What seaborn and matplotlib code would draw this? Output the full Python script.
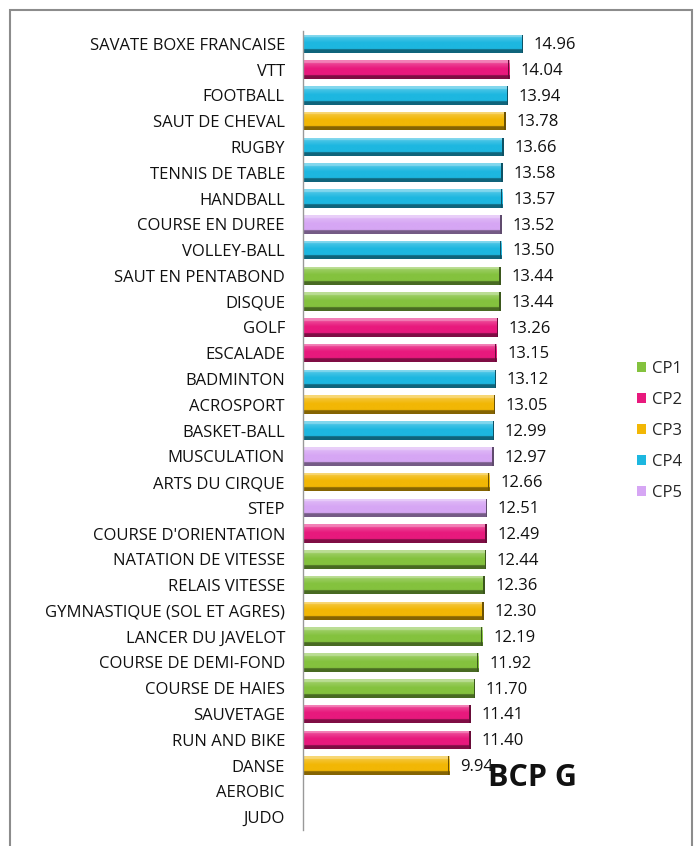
import numpy as np
import pandas as pd
import matplotlib
matplotlib.use("Agg")
import matplotlib.pyplot as plt
from matplotlib.patches import Rectangle
import matplotlib.colors as mcolors
import seaborn as sns

sports = ["SAVATE BOXE FRANCAISE", "VTT", "FOOTBALL", "SAUT DE CHEVAL", "RUGBY",
          "TENNIS DE TABLE", "HANDBALL", "COURSE EN DUREE", "VOLLEY-BALL",
          "SAUT EN PENTABOND", "DISQUE", "GOLF", "ESCALADE", "BADMINTON",
          "ACROSPORT", "BASKET-BALL", "MUSCULATION", "ARTS DU CIRQUE", "STEP",
          "COURSE D'ORIENTATION", "NATATION DE VITESSE", "RELAIS VITESSE",
          "GYMNASTIQUE (SOL ET AGRES)", "LANCER DU JAVELOT", "COURSE DE DEMI-FOND",
          "COURSE DE HAIES", "SAUVETAGE", "RUN AND BIKE", "DANSE", "AEROBIC", "JUDO"]
values = [14.96, 14.04, 13.94, 13.78, 13.66, 13.58, 13.57, 13.52, 13.50, 13.44,
          13.44, 13.26, 13.15, 13.12, 13.05, 12.99, 12.97, 12.66, 12.51, 12.49,
          12.44, 12.36, 12.30, 12.19, 11.92, 11.70, 11.41, 11.40, 9.94, np.nan, np.nan]
groups = ["CP4", "CP2", "CP4", "CP3", "CP4", "CP4", "CP4", "CP5", "CP4", "CP1",
          "CP1", "CP2", "CP2", "CP4", "CP3", "CP4", "CP5", "CP3", "CP5", "CP2",
          "CP1", "CP1", "CP3", "CP1", "CP1", "CP1", "CP2", "CP2", "CP3", "CP5", "CP5"]
group_names = ["CP1", "CP2", "CP3", "CP4", "CP5"]
group_colors = ["#84C23E", "#E8197D", "#F2B705", "#1DB7E0", "#D6A6F4"]
title = "BCP G"

df = pd.DataFrame({"sport": sports, "value": values, "cp": groups})
palette = dict(zip(group_names, group_colors))

sns.set_style("white")
plt.rcParams["font.family"] = ["Open Sans", "DejaVu Sans"]

W, H = 699, 846
fig = plt.figure(figsize=(W / 100, H / 100), dpi=100)
ax = fig.add_axes([303 / W, 1 - 830 / H, (580 - 303) / W, (830 - 31) / H])

sns.barplot(data=df, y="sport", x="value", hue="cp", order=sports,
            hue_order=group_names, palette=palette, dodge=False, width=0.72,
            saturation=1, ax=ax, legend=True, linewidth=0)

xmax = (580 - 303) / 14.7
ax.set_xlim(0, xmax)
ylim = ax.get_ylim()

# bevel-like shading on each bar
n = 64
t = np.linspace(0, 1, n)
for p in list(ax.patches):
    w = p.get_width()
    if not np.isfinite(w) or w <= 0:
        continue
    base = np.array(mcolors.to_rgb(p.get_facecolor()))
    img = np.zeros((n, 1, 4))
    for i, tt in enumerate(t):
        if tt < 0.15:
            c = base * 0.55 + 0.45
        elif tt < 0.45:
            c = base * 0.8 + 0.2 * (0.45 - tt) / 0.3 + base * 0.2 * (tt - 0.15) / 0.3
        elif tt < 0.8:
            c = base
        else:
            c = base * 0.55
        img[i, 0, :3] = np.clip(c, 0, 1)
        img[i, 0, 3] = 1
    x0, y0 = p.get_x(), p.get_y()
    h = p.get_height()
    im = ax.imshow(img, extent=[x0, x0 + w, y0 + h, y0], aspect="auto",
                   interpolation="bilinear", zorder=p.get_zorder() + 0.1)
    im.set_clip_path(p)
    ax.add_patch(Rectangle((x0 + w - 0.09, y0), 0.09, h, color=base * 0.45,
                           zorder=p.get_zorder() + 0.2, lw=0))
    ax.text(x0 + w + 0.75, y0 + h / 2 + 0.05, f"{w:.2f}", va="center", ha="left",
            fontsize=12, color="#111111")

ax.set_xlim(0, xmax)
ax.set_ylim(ylim)
ax.set_xlabel("")
ax.set_ylabel("")
ax.set_xticks([])
ax.tick_params(axis="y", length=0, pad=13, labelsize=12, labelcolor="#111111")
for s in ["top", "right", "bottom"]:
    ax.spines[s].set_visible(False)
ax.spines["left"].set_color("#999999")
ax.spines["left"].set_linewidth(1)

leg = ax.legend(loc="center left", bbox_to_anchor=(622 / W, 1 - 431 / H),
                bbox_transform=fig.transFigure, frameon=False, fontsize=12,
                handlelength=0.55, handleheight=0.55, labelspacing=0.9,
                handletextpad=0.35)
for h in leg.legend_handles:
    h.set_edgecolor("none")

fig.text(488 / W, 1 - 778 / H, title, fontsize=22, fontweight="bold",
         va="center", ha="left", color="#111111")

fig.patches.append(Rectangle((10 / W, -0.05), (692 - 10) / W, 1 - 10 / H + 0.05,
                             transform=fig.transFigure, fill=False,
                             edgecolor="#8c8c8c", linewidth=1.5))

fig.savefig("out.png", dpi=100)
